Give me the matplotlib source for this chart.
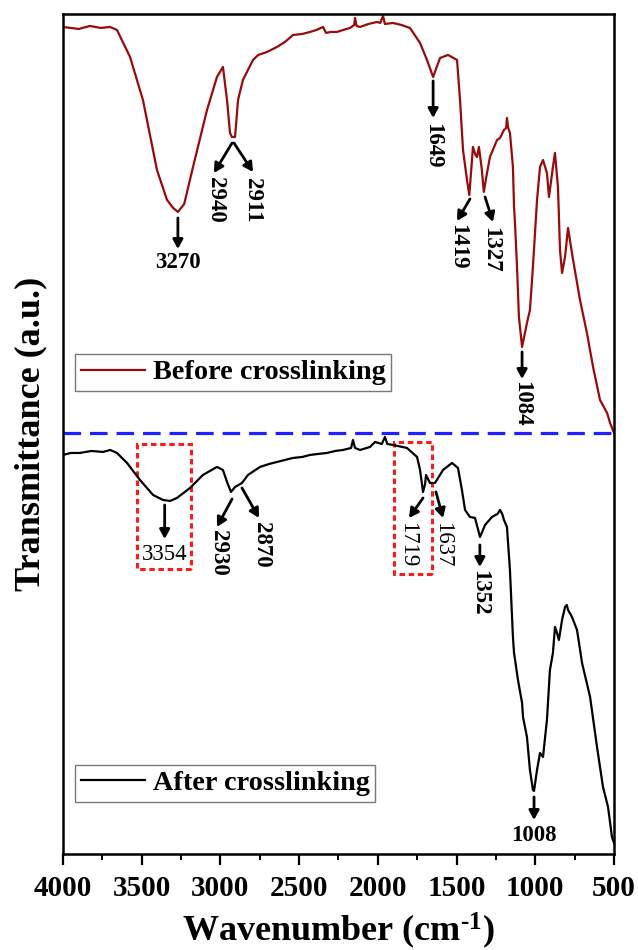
import matplotlib
matplotlib.use("Agg")
import matplotlib.pyplot as plt
from matplotlib.patches import Rectangle
from matplotlib.ticker import MultipleLocator

plt.rcParams['font.family'] = ['Liberation Serif', 'DejaVu Serif']
plt.rcParams['mathtext.fontset'] = 'custom'
plt.rcParams['mathtext.rm'] = 'Liberation Serif:bold'
plt.rcParams['mathtext.bf'] = 'Liberation Serif:bold'
plt.rcParams['mathtext.it'] = 'Liberation Serif:bold'

# FTIR spectrum before crosslinking (wavenumber in cm-1, transmittance in a.u.)
before_wn = [4000, 3900, 3828, 3760, 3701, 3657, 3574, 3492, 3403, 3339, 3300, 3270,
             3230, 3174, 3085, 3022, 2984, 2958, 2939, 2927, 2907, 2888, 2857, 2793,
             2760, 2704, 2641, 2590, 2539, 2480, 2431, 2390, 2348, 2329, 2300, 2260,
             2220, 2177, 2150, 2145, 2135, 2113, 2060, 2005, 1985, 1967, 1955, 1904,
             1850, 1796, 1732, 1688, 1649, 1605, 1554, 1497, 1478, 1459, 1434, 1419,
             1396, 1380, 1370, 1358, 1340, 1327, 1310, 1288, 1243, 1224, 1199, 1185,
             1180, 1172, 1161, 1142, 1135, 1129, 1116, 1104, 1084, 1053, 1034, 1015,
             989, 970, 951, 926, 913, 888, 875, 856, 843, 830, 811, 792, 760, 716,
             672, 633, 589, 544, 525, 500]
before_t = [82.7, 82.5, 82.8, 82.6, 82.7, 82.4, 79.7, 75.4, 68.4, 65.4, 64.6, 64.2,
            65.0, 68.7, 74.4, 77.7, 78.7, 75.4, 72.1, 71.7, 71.7, 75.4, 77.4, 79.4,
            79.9, 80.2, 80.7, 81.2, 81.9, 82.0, 82.2, 82.4, 82.7, 82.1, 82.2, 82.2,
            82.4, 82.6, 82.9, 83.6, 82.8, 82.7, 83.0, 83.2, 83.1, 83.8, 83.0, 83.1,
            82.9, 82.6, 81.1, 79.4, 77.7, 79.6, 79.9, 79.4, 75.4, 70.4, 67.4, 65.9,
            70.7, 69.9, 69.7, 70.7, 68.5, 66.2, 67.8, 69.7, 71.4, 71.6, 72.4, 72.6,
            73.6, 72.6, 72.1, 68.7, 64.7, 63.1, 58.7, 53.7, 50.7, 53.1, 54.4, 58.7,
            65.4, 68.7, 69.4, 68.1, 65.7, 68.7, 70.1, 66.7, 60.4, 58.1, 59.7, 62.6,
            59.4, 55.4, 52.1, 48.7, 45.4, 44.1, 43.1, 42.1]

# FTIR spectrum after crosslinking
after_wn = [4000, 3950, 3892, 3820, 3746, 3700, 3657, 3593, 3511, 3428, 3365, 3320,
            3276, 3193, 3111, 3022, 2984, 2958, 2933, 2907, 2863, 2825, 2749, 2690,
            2641, 2590, 2539, 2480, 2431, 2380, 2323, 2270, 2221, 2170, 2158, 2145,
            2113, 2050, 2018, 1975, 1955, 1940, 1904, 1815, 1751, 1732, 1713, 1700,
            1694, 1669, 1637, 1586, 1529, 1491, 1466, 1446, 1415, 1383, 1351, 1319,
            1275, 1240, 1224, 1210, 1199, 1180, 1161, 1142, 1135, 1110, 1084, 1078,
            1053, 1034, 1015, 1008, 989, 970, 951, 926, 907, 888, 875, 862, 850,
            830, 811, 800, 792, 767, 735, 703, 652, 608, 570, 538, 513, 500]
after_t = [39.9, 40.1, 40.1, 40.3, 40.2, 40.4, 40.1, 39.1, 37.4, 35.9, 35.4, 35.3,
           35.6, 36.6, 37.9, 38.7, 38.4, 37.2, 36.2, 36.7, 37.1, 37.9, 38.7, 39.0,
           39.2, 39.4, 39.6, 39.7, 39.9, 40.0, 40.1, 40.3, 40.4, 40.6, 41.4, 40.6,
           40.4, 40.7, 41.2, 41.0, 41.7, 41.0, 40.9, 40.6, 39.7, 38.4, 36.2, 37.0,
           37.9, 37.1, 37.1, 38.4, 39.1, 38.6, 36.4, 34.4, 33.7, 33.6, 31.7, 32.9,
           33.7, 34.0, 34.4, 34.0, 33.4, 32.7, 28.4, 21.7, 20.1, 17.4, 15.1, 13.7,
           11.7, 8.4, 6.4, 6.3, 8.4, 10.1, 9.7, 13.4, 18.4, 20.1, 22.7, 22.1, 21.4,
           23.4, 24.7, 24.9, 24.4, 23.7, 22.4, 19.1, 15.7, 10.7, 6.7, 4.7, 1.7, 1.1]

# Peak labels: (text, arrow tail, arrow tip, label anchor, rotation, bold)
before_peaks = [
    ("3270", (3270, 63.6), (3270, 60.5), (3270, 60.2), 0, True),
    ("2940", (2926, 71.1), (3041, 68.1), (3034, 67.7), 270, True),
    ("2911", (2914, 71.1), (2793, 68.2), (2799, 67.6), 270, True),
    ("1649", (1649, 77.3), (1649, 73.6), (1649, 73.1), 270, True),
    ("1419", (1415, 65.5), (1497, 63.3), (1491, 63.0), 270, True),
    ("1327", (1319, 65.7), (1269, 63.2), (1281, 62.7), 270, True),
    ("1084", (1084, 50.2), (1084, 47.5), (1084, 47.3), 270, True),
]
after_peaks = [
    ("3354", (3354, 34.9), (3354, 31.5), (3354, 31.0), 0, False),
    ("2930", (2926, 35.5), (3022, 32.7), (3015, 32.4), 270, True),
    ("2870", (2863, 36.6), (2755, 33.6), (2736, 33.2), 270, True),
    ("1719", (1713, 35.6), (1802, 33.6), (1809, 33.2), 270, False),
    ("1637", (1631, 36.2), (1586, 33.6), (1586, 33.2), 270, False),
    ("1352", (1352, 30.9), (1352, 28.7), (1352, 28.4), 270, True),
    ("1008", (1008, 5.7), (1008, 3.4), (1008, 2.9), 0, True),
]

# Highlighted regions (wavenumber span, transmittance span)
boxes = [((3528, 3188), (28.5, 41.0)), ((1897, 1656), (28.0, 41.2))]
divider_t = 42.1

fig = plt.figure(figsize=(6.38, 9.5), dpi=100)
ax = fig.add_axes([0.0987, 0.1011, 0.8637, 0.8842])

l1, = ax.plot(before_wn, before_t, color='#990a0a', lw=1.6, label='Before crosslinking')
l2, = ax.plot(after_wn, after_t, color='black', lw=1.6, label='After crosslinking')

ax.axhline(divider_t, color='#1f1fff', lw=2.3, dashes=(5.5, 2.8))

for (x0, x1), (y0, y1) in boxes:
    ax.add_patch(Rectangle((x1, y0), x0 - x1, y1 - y0, fill=False,
                           edgecolor='#ff1a1a', lw=2.2, linestyle=(0, (1.8, 1.2))))

for label, tail, tip, pos, rot, bold in before_peaks + after_peaks:
    ax.annotate('', xy=tip, xytext=tail,
                arrowprops=dict(arrowstyle='-|>,head_length=0.55,head_width=0.3',
                                color='black', lw=2.0, shrinkA=0, shrinkB=0))
    ax.text(pos[0], pos[1], label, rotation=rot, ha='center', va='top',
            fontsize=16.5, fontweight='bold' if bold else 'normal')

ax.set_xlim(4000, 500)
ax.set_ylim(0, 84)
ax.xaxis.set_major_locator(MultipleLocator(500))
ax.xaxis.set_minor_locator(MultipleLocator(250))
ax.set_yticks([])
ax.tick_params(axis='x', which='major', direction='out', length=8, width=1.6,
               labelsize=21, pad=7, top=False)
ax.tick_params(axis='x', which='minor', direction='out', length=4, width=1.4, top=False)
for lab in ax.get_xticklabels():
    lab.set_fontweight('bold')
for sp in ax.spines.values():
    sp.set_linewidth(1.8)

ax.set_xlabel(r'Wavenumber (cm$^{\text{-1}}$)', fontsize=26, fontweight='bold', labelpad=6)
ax.set_ylabel('Transmittance (a.u.)', fontsize=26, fontweight='bold', labelpad=11)

leg_kw = dict(loc='lower left', borderaxespad=0, fancybox=False, edgecolor='#777777',
              framealpha=1, handlelength=2.3, handletextpad=0.25, borderpad=0.2,
              prop={'size': 20.3, 'weight': 'bold'})
leg1 = ax.legend(handles=[l1], bbox_to_anchor=(0.0218, 0.551), **leg_kw)
leg1.get_frame().set_linewidth(1.0)
ax.add_artist(leg1)
leg2 = ax.legend(handles=[l2], bbox_to_anchor=(0.0218, 0.0619), **leg_kw)
leg2.get_frame().set_linewidth(1.0)

fig.savefig('out.png', dpi=100)
